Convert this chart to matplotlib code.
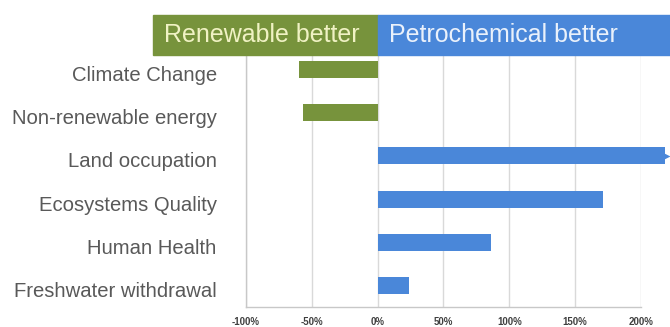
import matplotlib
matplotlib.use("Agg")
import matplotlib.pyplot as plt
import matplotlib.transforms as mtransforms
from matplotlib.patches import Rectangle
from matplotlib.ticker import FuncFormatter

plt.rcParams['font.family'] = ['Liberation Sans', 'DejaVu Sans']

# Relative impact of petrochemical vs renewable route (fraction, + = petrochemical better)
categories = ["Climate Change", "Non-renewable energy", "Land occupation",
              "Ecosystems Quality", "Human Health", "Freshwater withdrawal"]
values = [-0.60, -0.57, 2.18, 1.71, 0.86, 0.24]
off_scale = [False, False, True, False, False, False]
xticks = [-1.0, -0.5, 0.0, 0.5, 1.0, 1.5, 2.0]

GREEN = "#77933c"
BLUE = "#4a87d9"

fig = plt.figure(figsize=(6.7, 3.27), dpi=100)
ax = fig.add_axes([246 / 670, 1 - 307 / 327, (641 - 246) / 670, (307 - 48) / 327])

y = list(range(len(categories)))
colors = [GREEN if v < 0 else BLUE for v in values]
bars = ax.barh(y, values, height=0.39, color=colors, zorder=3)

# bars that run past the axis get an arrow tip
for b, v, yy, flag in zip(bars, values, y, off_scale):
    if flag:
        b.set_clip_on(False)
        ax.plot([v], [yy], marker='>', ms=7, color=BLUE, mec='none',
                clip_on=False, zorder=3)

ax.set_xlim(-1.0, 2.0)
ax.set_ylim(len(categories) - 0.5, -0.5)
ax.set_xticks(xticks)
ax.xaxis.set_major_formatter(FuncFormatter(lambda v, pos: "%d%%" % round(v * 100)))
ax.set_yticks(y)
ax.set_yticklabels(categories, fontsize=14.6, color="#595959")
ax.tick_params(axis='y', length=0, pad=21)
ax.tick_params(axis='x', length=0, pad=7, labelsize=7, labelcolor="#404040")
for lab in ax.get_xticklabels():
    lab.set_fontweight('bold')
# category names sit a little below the bar centres
shift = mtransforms.ScaledTranslation(0, -4 / 100, fig.dpi_scale_trans)
for lab in ax.get_yticklabels():
    lab.set_transform(lab.get_transform() + shift)

ax.grid(axis='x', color="#d9d9d9", lw=1, zorder=0)
for side in ['top', 'right']:
    ax.spines[side].set_visible(False)
for side in ['left', 'bottom']:
    ax.spines[side].set_color("#c8c8c8")
    ax.spines[side].set_linewidth(1)

# header bands above the plot
trans = mtransforms.blended_transform_factory(ax.transData, ax.transAxes)
y0, y1 = 0.973, 1.127
ax.add_patch(Rectangle((-1.705, y0), 1.705, y1 - y0, transform=trans,
                       color=GREEN, clip_on=False, zorder=5))
ax.add_patch(Rectangle((0.0, y0), 2.3, y1 - y0, transform=trans,
                       color=BLUE, clip_on=False, zorder=5))
ax.text(-1.62, (y0 + y1) / 2, "Renewable better", transform=trans,
        ha='left', va='center', fontsize=18, color="#f0f2c4", zorder=6)
ax.text(0.085, (y0 + y1) / 2, "Petrochemical better", transform=trans,
        ha='left', va='center', fontsize=18, color="#eaf1fb", zorder=6)

fig.savefig("out.png", dpi=100)
